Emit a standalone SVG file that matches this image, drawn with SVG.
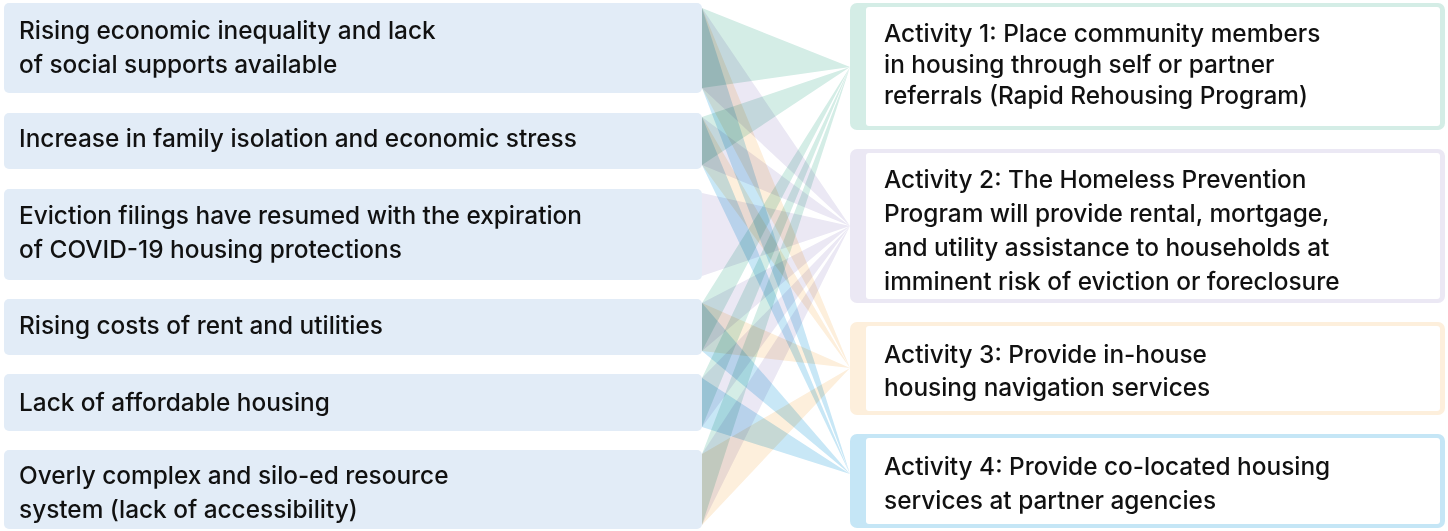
<svg xmlns="http://www.w3.org/2000/svg" width="1448" height="531" viewBox="0 0 1448 531">
<style>
.lb{fill:#e2ecf7}
.t{font-family:Inter,"Liberation Sans",sans-serif;font-size:24.4px;font-weight:500;fill:#111}
.w{mix-blend-mode:multiply}
.g{fill:#d4ede6}
.l{fill:#ebe8f4}
.o{fill:#fdefdc}
.b{fill:#c8e7f6}
.in{fill:#fff}
</style>
<rect width="1448" height="531" fill="#fff"/>
<g id="connectors">
<polygon class="w g" points="702,8 702,88 850,67"/>
<polygon class="w l" points="702,8 702,88 850,226"/>
<polygon class="w o" points="702,8 702,88 850,368"/>
<polygon class="w b" points="702,8 702,88 850,474"/>
<polygon class="w g" points="702,117 702,165 850,67"/>
<polygon class="w l" points="702,117 702,165 850,226"/>
<polygon class="w o" points="702,117 702,165 850,368"/>
<polygon class="w b" points="702,117 702,165 850,474"/>
<polygon class="w l" points="702,193 702,276 850,226"/>
<polygon class="w g" points="702,303 702,351 850,67"/>
<polygon class="w l" points="702,303 702,351 850,226"/>
<polygon class="w o" points="702,303 702,351 850,368"/>
<polygon class="w b" points="702,303 702,351 850,474"/>
<polygon class="w g" points="702,378 702,427 850,67"/>
<polygon class="w l" points="702,378 702,427 850,226"/>
<polygon class="w b" points="702,378 702,427 850,474"/>
<polygon class="w g" points="702,454 702,525 850,67"/>
<polygon class="w l" points="702,454 702,525 850,226"/>
<polygon class="w o" points="702,454 702,525 850,368"/>
</g>
<g id="p1"><rect class="lb" x="4" y="3" width="698" height="90" rx="5"/><text class="t" x="19" y="39">Rising economic inequality and lack</text><text class="t" x="19" y="73">of social supports available</text></g>
<g id="p2"><rect class="lb" x="4" y="113" width="698" height="56" rx="5"/><text class="t" x="19" y="147">Increase in family isolation and economic stress</text></g>
<g id="p3"><rect class="lb" x="4" y="189" width="698" height="91" rx="5"/><text class="t" x="19" y="224">Eviction filings have resumed with the expiration</text><text class="t" x="19" y="258">of COVID-19 housing protections</text></g>
<g id="p4"><rect class="lb" x="4" y="299" width="698" height="56" rx="5"/><text class="t" x="19" y="334">Rising costs of rent and utilities</text></g>
<g id="p5"><rect class="lb" x="4" y="374" width="698" height="57" rx="5"/><text class="t" x="19" y="411">Lack of affordable housing</text></g>
<g id="p6"><rect class="lb" x="4" y="450" width="698" height="79" rx="5"/><text class="t" x="19" y="484">Overly complex and silo-ed resource</text><text class="t" x="19" y="518">system (lack of accessibility)</text></g>
<g id="a1"><rect class="g" x="850" y="3" width="595" height="127" rx="7"/><rect class="in" x="866" y="7" width="574" height="119" rx="3"/><text class="t" x="884" y="42">Activity 1: Place community members</text><text class="t" x="884" y="73">in housing through self or partner</text><text class="t" x="884" y="104">referrals (Rapid Rehousing Program)</text></g>
<g id="a2"><rect class="l" x="850" y="149" width="595" height="154" rx="7"/><rect class="in" x="866" y="153" width="574" height="146" rx="3"/><text class="t" x="884" y="188">Activity 2: The Homeless Prevention</text><text class="t" x="884" y="222">Program will provide rental, mortgage,</text><text class="t" x="884" y="256">and utility assistance to households at</text><text class="t" x="884" y="290">imminent risk of eviction or foreclosure</text></g>
<g id="a3"><rect class="o" x="850" y="322" width="595" height="93" rx="7"/><rect class="in" x="866" y="326" width="574" height="85" rx="3"/><text class="t" x="884" y="363">Activity 3: Provide in-house</text><text class="t" x="884" y="396">housing navigation services</text></g>
<g id="a4"><rect fill="#c5e6f6" x="850" y="434" width="595" height="94" rx="7"/><rect class="in" x="866" y="438" width="574" height="86" rx="3"/><text class="t" x="884" y="475">Activity 4: Provide co-located housing</text><text class="t" x="884" y="509">services at partner agencies</text></g>
</svg>
